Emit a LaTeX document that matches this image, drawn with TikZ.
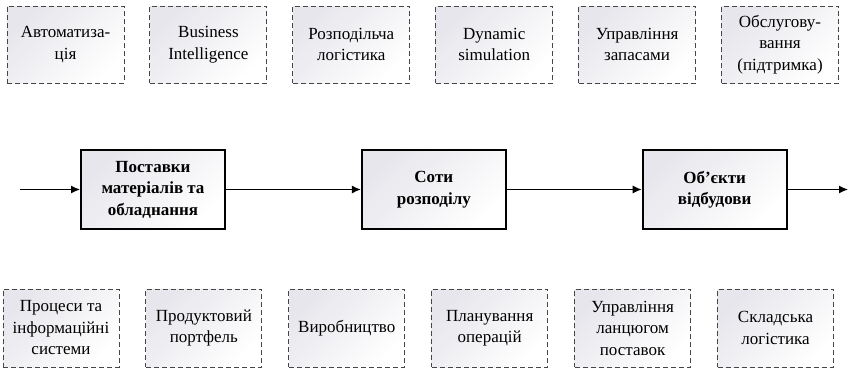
\documentclass[tikz,border=0pt]{standalone}
\usepackage{fontspec}
\setmainfont{Liberation Serif}
\usetikzlibrary{arrows.meta, positioning}
\definecolor{dashgray}{RGB}{70,70,70}
\definecolor{shadegray}{RGB}{230,230,236}

\begin{document}
\begin{tikzpicture}[x=1pt, y=1pt, node distance=25pt,
    factor/.style={draw=dashgray, line width=0.9pt, dash pattern=on 5pt off 3pt, top color=shadegray, bottom color=white, shading angle=45, align=center, minimum width=117pt, minimum height=77pt, inner sep=1pt, font=\fontsize{17}{21.5}\selectfont},
    stage/.style={draw, line width=1.8pt, top color=shadegray, bottom color=white, shading angle=45, align=center, minimum width=144pt, minimum height=79pt, inner sep=1pt, font=\bfseries\fontsize{17}{21.5}\selectfont},
    flow/.style={-{Latex[length=9pt, width=8pt]}, line width=1.3pt}]
    \useasboundingbox (0,0) rectangle (848,368);
    % top row
    \node[factor] (t1) at (65.5,323.5) {Автоматиза-\\ція};
    \node[factor, right=of t1] (t2) {Business\\Intelligence};
    \node[factor, right=of t2] (t3) {Розподільча\\логістика};
    \node[factor, right=of t3] (t4) {Dynamic\\simulation};
    \node[factor, right=of t4] (t5) {Управління\\запасами};
    \node[factor, right=of t5] (t6) {Обслугову-\\вання\\(підтримка)};
    % main chain
    \node[stage] (s1) at (153,178.5) {Поставки\\матеріалів та\\обладнання};
    \node[stage, right=135pt of s1] (s2) {Соти\\розподілу};
    \node[stage, right=135pt of s2] (s3) {Об’єкти\\відбудови};
    \coordinate (in) at (20,178.5);
    \coordinate (out) at (848,178.5);
    \draw[flow] (in) -- (s1);
    \draw[flow] (s1) -- (s2);
    \draw[flow] (s2) -- (s3);
    \draw[flow] (s3) -- (out);
    % bottom row
    \node[factor, minimum width=116pt, minimum height=78pt] (b1) at (61,40) {Процеси та\\інформаційні\\системи};
    \node[factor, minimum width=116pt, minimum height=78pt, right=26pt of b1] (b2) {Продуктовий\\портфель};
    \node[factor, minimum width=116pt, minimum height=78pt, right=26pt of b2] (b3) {Виробництво};
    \node[factor, minimum width=116pt, minimum height=78pt, right=26pt of b3] (b4) {Планування\\операцій};
    \node[factor, minimum width=116pt, minimum height=78pt, right=26pt of b4] (b5) {Управління\\ланцюгом\\поставок};
    \node[factor, minimum width=116pt, minimum height=78pt, right=26pt of b5] (b6) {Складська\\логістика};
\end{tikzpicture}
\end{document}
